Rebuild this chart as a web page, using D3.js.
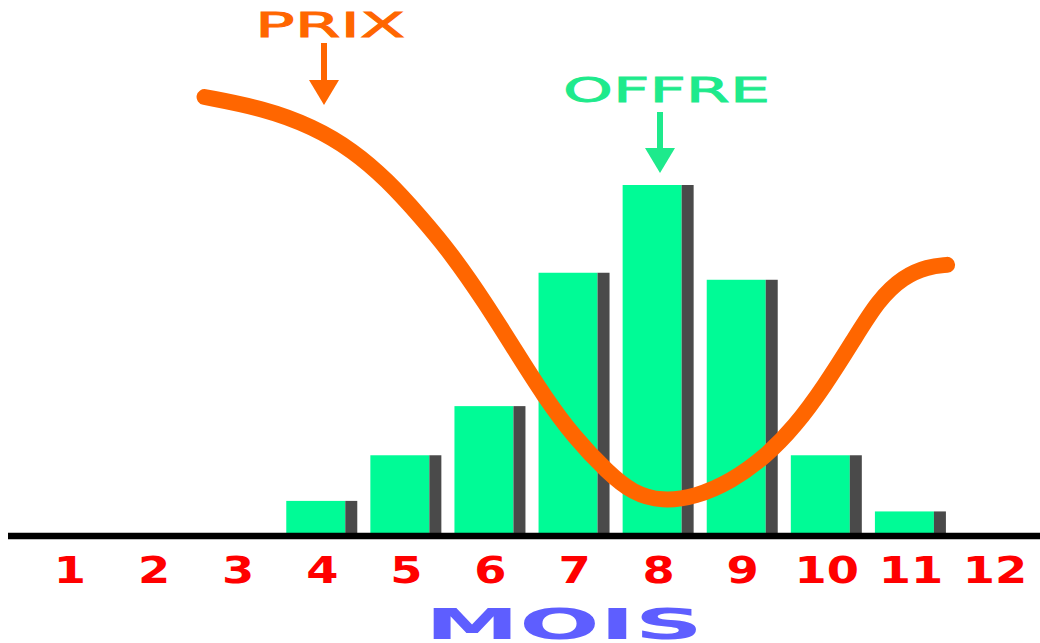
<!DOCTYPE html>
<html>
<head>
<meta charset="utf-8">
<script src="https://cdn.jsdelivr.net/npm/d3@7"></script>
<style>
  html, body { margin: 0; padding: 0; background: #fff; }
  svg { display: block; }
</style>
</head>
<body>
<svg id="chart" width="1040" height="643"></svg>
<script>
// ---- data ----
const months = [1, 2, 3, 4, 5, 6, 7, 8, 9, 10, 11, 12];
const monthLabels = ["1", "2", "3", "4", "5", "6", "7", "8", "9", "10", "11", "12"];
const offre = [0, 0, 0, 10, 23, 37, 75, 100, 73, 23, 7, 0];
// price curve points (month position, price index)
const priceMonths = [2.60, 3.30, 3.89, 4.36, 4.77, 5.17, 5.53, 5.94, 6.29, 6.64, 6.99, 7.40,
                     7.69, 8.04, 8.44, 8.86, 9.27, 9.62, 9.97, 10.32, 10.61, 10.91, 11.20, 11.43];
const priceValues = [100, 97.4, 93.2, 87.8, 81.0, 72.5, 64.2, 52.8, 42.0, 31.3, 22.1, 13.8,
                     9.2, 7.2, 8.3, 11.8, 17.5, 24.4, 33.6, 44.3, 53.4, 58.8, 61.1, 61.5];
const titles = { price: "PRIX", offre: "OFFRE", axis: "MOIS" };

// ---- scales ----
const svg = d3.select("#chart");
const x = d3.scaleLinear().domain([1, 12]).range([70, 995]);
const y = d3.scaleLinear().domain([0, 100]).range([536, 185]);
const yPrice = d3.scaleLinear().domain([0, 100]).range([533, 97]);

const green = "#00fb96";
const shadow = "#4a4a4a";
const orange = "#ff6600";

// ---- bars ----
const bars = svg.append("g");
const barData = months.map((m, i) => ({ m, v: offre[i] })).filter(d => d.v > 0);
bars.selectAll("rect.main").data(barData).enter().append("rect")
  .attr("class", "main")
  .attr("x", d => x(d.m) - 36)
  .attr("width", 59)
  .attr("y", d => y(d.v))
  .attr("height", d => y(0) - y(d.v))
  .attr("fill", green);
bars.selectAll("rect.shadow").data(barData).enter().append("rect")
  .attr("class", "shadow")
  .attr("x", d => x(d.m) + 23)
  .attr("width", 12)
  .attr("y", d => y(d.v))
  .attr("height", d => y(0) - y(d.v))
  .attr("fill", shadow);

// ---- baseline ----
svg.append("line")
  .attr("x1", 8).attr("x2", 1040)
  .attr("y1", y(0)).attr("y2", y(0))
  .attr("stroke", "#000").attr("stroke-width", 6.5);

// ---- month labels ----
svg.append("g").selectAll("text").data(months).enter().append("text")
  .attr("transform", d => `translate(${x(d)},583) scale(1.22,1)`)
  .attr("text-anchor", "middle")
  .attr("font-family", "DejaVu Sans")
  .attr("font-weight", "bold")
  .attr("font-size", 38)
  .attr("fill", "#ff0000")
  .text((d, i) => monthLabels[i]);

// ---- price curve ----
const line = d3.line()
  .x(d => x(d[0]))
  .y(d => yPrice(d[1]))
  .curve(d3.curveBasis);
svg.append("path")
  .datum(priceMonths.map((m, i) => [m, priceValues[i]]))
  .attr("d", line)
  .attr("fill", "none")
  .attr("stroke", orange)
  .attr("stroke-width", 16)
  .attr("stroke-linecap", "round")
  .attr("stroke-linejoin", "round");

// ---- annotations ----
function annot(label, cx, textLeft, textWidth, baseY, lineTop, lineBottom, headBottom, color) {
  svg.append("text")
    .attr("x", textLeft).attr("y", baseY)
    .attr("font-family", "DejaVu Sans")
    .attr("font-size", 33)
    .attr("fill", color)
    .attr("stroke", color)
    .attr("stroke-width", 0.8)
    .attr("textLength", textWidth)
    .attr("lengthAdjust", "spacingAndGlyphs")
    .text(label);
  svg.append("line")
    .attr("x1", cx).attr("x2", cx)
    .attr("y1", lineTop).attr("y2", lineBottom)
    .attr("stroke", color).attr("stroke-width", 6);
  svg.append("path")
    .attr("d", `M${cx - 15},${lineBottom - 2} L${cx + 15},${lineBottom - 2} L${cx},${headBottom} Z`)
    .attr("fill", color);
}
annot(titles.price, 324, 255, 150, 37, 43, 82, 105, orange);
annot(titles.offre, 660, 563, 207, 102, 112, 150, 173, "#1eea8c");

// ---- axis title ----
svg.append("text")
  .attr("x", 425).attr("y", 639)
  .attr("font-family", "DejaVu Sans")
  .attr("font-weight", "bold")
  .attr("font-size", 42)
  .attr("fill", "#5e5eff")
  .attr("textLength", 278)
  .attr("lengthAdjust", "spacingAndGlyphs")
  .text(titles.axis);
</script>
</body>
</html>
